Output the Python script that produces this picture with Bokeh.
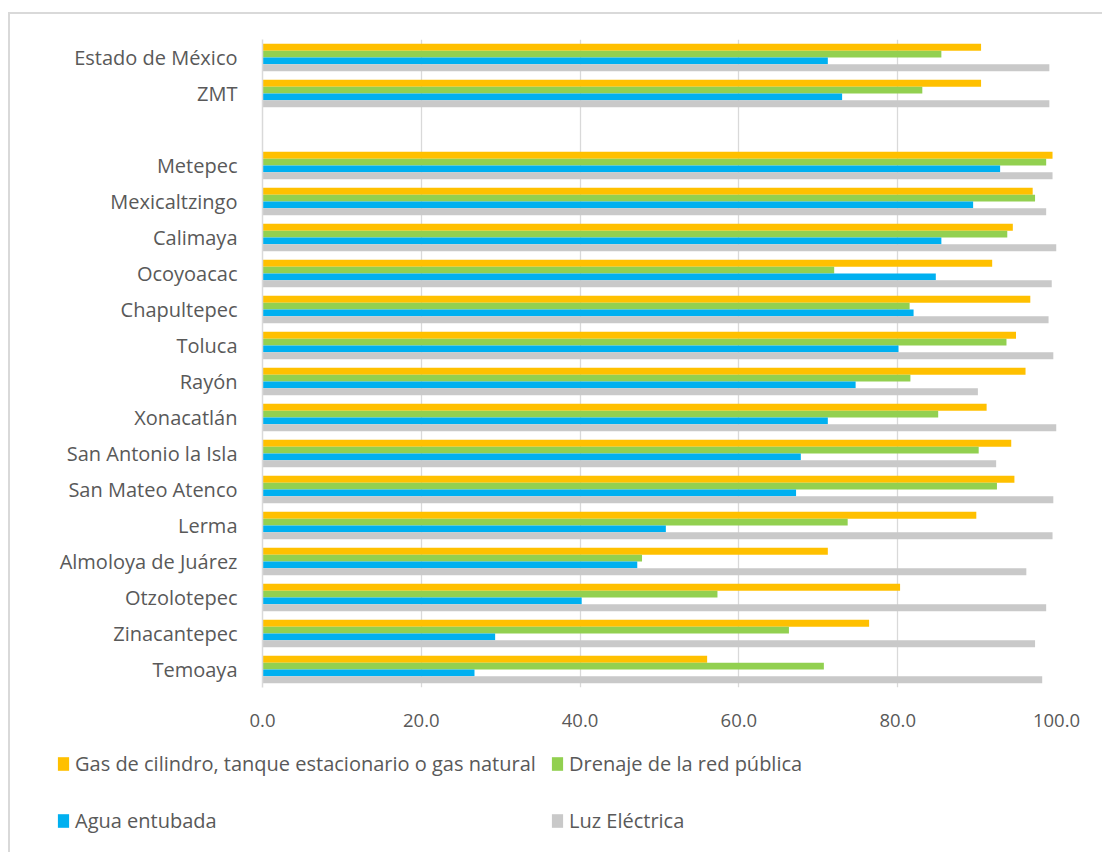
from bokeh.plotting import figure
from bokeh.layouts import column
from bokeh.models import (ColumnDataSource, FactorRange, Range1d, Legend, LegendItem,
                          NumeralTickFormatter, FixedTicker)
from bokeh.transform import dodge
from bokeh.embed import file_html
from bokeh.resources import INLINE

# Viviendas con servicios (%) por municipio
municipios = ["Estado de México", "ZMT", "Metepec", "Mexicaltzingo", "Calimaya", "Ocoyoacac",
              "Chapultepec", "Toluca", "Rayón", "Xonacatlán", "San Antonio la Isla",
              "San Mateo Atenco", "Lerma", "Almoloya de Juárez", "Otzolotepec",
              "Zinacantepec", "Temoaya"]
gas = [90.5, 90.5, 99.5, 97.0, 94.5, 91.9, 96.7, 94.9, 96.1, 91.2, 94.3, 94.7, 89.9, 71.2,
       80.3, 76.4, 56.0]
drenaje = [85.5, 83.1, 98.7, 97.3, 93.8, 72.0, 81.5, 93.7, 81.6, 85.1, 90.2, 92.5, 73.7, 47.8,
           57.3, 66.3, 70.7]
agua = [71.2, 73.0, 92.9, 89.5, 85.5, 84.8, 82.0, 80.1, 74.7, 71.2, 67.8, 67.2, 50.8, 47.2,
        40.2, 29.3, 26.7]
luz = [99.1, 99.1, 99.5, 98.7, 100.0, 99.4, 99.0, 99.6, 90.1, 100.0, 92.4, 99.6, 99.5, 96.2,
       98.7, 97.3, 98.2]

series_names = ["Gas de cilindro, tanque estacionario o gas natural",
                "Drenaje de la red pública", "Agua entubada", "Luz Eléctrica"]
series_keys = ["gas", "drenaje", "agua", "luz"]
colors = ["#FFC000", "#92D050", "#00B0F0", "#C9C9C9"]
offsets = [0.285, 0.095, -0.095, -0.285]
x_ticks = [0, 20, 40, 60, 80, 100]

FONT = "Open Sans"
TEXT_COLOR = "#595959"
GRID_COLOR = "#D9D9D9"

# blank row separates the state / metro totals from the municipalities
order = municipios[:2] + [" "] + municipios[2:]
factors = list(reversed(order))

source = ColumnDataSource(data=dict(cat=municipios, gas=gas, drenaje=drenaje, agua=agua, luz=luz))

p = figure(width=1092, height=727,
           y_range=FactorRange(factors=factors, range_padding=0, factor_padding=0),
           x_range=Range1d(0, 100),
           output_backend="svg", toolbar_location=None,
           min_border_left=252, min_border_right=46, min_border_top=25, min_border_bottom=54)
p.frame_align = False

for key, color, off in zip(series_keys, colors, offsets):
    p.hbar(y=dodge("cat", off, range=p.y_range), left=0, right=key, height=0.19,
           source=source, fill_color=color, line_color=None)

p.outline_line_color = None
p.ygrid.grid_line_color = None
p.xgrid.grid_line_color = GRID_COLOR
p.xgrid.grid_line_width = 1.3

p.xaxis.ticker = FixedTicker(ticks=x_ticks)
p.xaxis.formatter = NumeralTickFormatter(format="0.0")
p.xaxis.axis_line_color = None
p.xaxis.major_tick_line_color = None
p.xaxis.minor_tick_line_color = None
p.xaxis.major_label_standoff = 20
p.xaxis.major_label_text_font_size = "18.5px"

p.yaxis.axis_line_color = GRID_COLOR
p.yaxis.axis_line_width = 1.5
p.yaxis.major_tick_line_color = None
p.yaxis.minor_tick_line_color = None
p.yaxis.major_label_standoff = 19
p.yaxis.major_label_text_font_size = "20px"

for ax in (p.xaxis[0], p.yaxis[0]):
    ax.major_label_text_font = FONT
    ax.major_label_text_color = TEXT_COLOR

# legend strip under the chart, spanning the full width
leg = figure(width=1092, height=111, x_range=Range1d(0, 1), y_range=Range1d(0, 1),
             x_axis_type=None, y_axis_type=None, output_backend="svg", toolbar_location=None,
             min_border=0)
leg.frame_align = False
leg.outline_line_color = None
leg.xgrid.grid_line_color = None
leg.ygrid.grid_line_color = None

# hidden copies of the bar series, used only as legend swatches
swatches = []
for key, color, off in zip(series_keys, colors, offsets):
    r = leg.hbar(y=dodge("cat", off, range=p.y_range), left=0, right=key, height=0.19,
                 source=source, fill_color=color, line_color=None)
    r.visible = False
    swatches.append(r)


def make_legend(idx, loc):
    items = [LegendItem(label=series_names[i], renderers=[swatches[i]]) for i in idx]
    return Legend(items=items, orientation="horizontal", location=loc,
                  label_text_font=FONT, label_text_font_size="20px",
                  label_text_color=TEXT_COLOR, label_width=465, label_height=20,
                  glyph_width=14, glyph_height=17, label_standoff=5, spacing=10,
                  padding=0, margin=0, border_line_color=None, background_fill_alpha=0,
                  inactive_fill_alpha=0)


leg.add_layout(make_legend([0, 1], (46, 75)))
leg.add_layout(make_legend([2, 3], (46, 18)))

page = column(p, leg, spacing=0)
page.styles = {"margin-left": "8px", "margin-top": "12px",
               "border-left": f"2px solid {GRID_COLOR}", "border-top": f"2px solid {GRID_COLOR}"}

open("out.html", "w").write(file_html(page, INLINE))
